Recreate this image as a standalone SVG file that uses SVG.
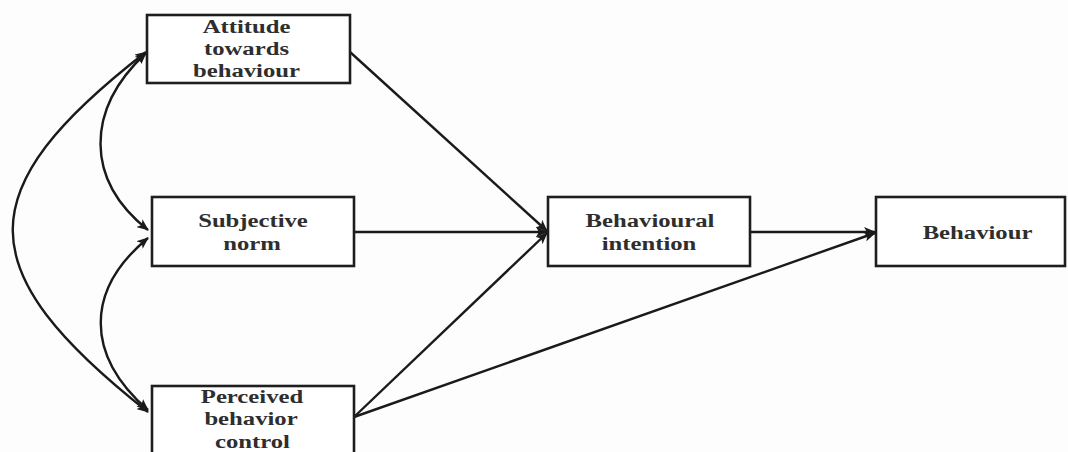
<svg xmlns="http://www.w3.org/2000/svg" width="1068" height="452" viewBox="0 0 1068 452">
  <style>
    .box { fill: #ffffff; stroke: #1e1e1e; stroke-width: 2.6; }
    .lbl { font-family: "Liberation Serif", "Times New Roman", serif; font-weight: bold; font-size: 19px; fill: #2e2e2e; text-anchor: middle; }
    .edge { fill: none; stroke: #1a1a1a; stroke-width: 2.4; }
  </style>
  <defs>
    <marker id="arrow" viewBox="0 0 12 10" refX="11" refY="5" markerWidth="12" markerHeight="10" markerUnits="userSpaceOnUse" orient="auto-start-reverse">
      <path d="M0,0 L12,5 L0,10 L3,5 Z" fill="#1a1a1a"/>
    </marker>
  </defs>
  <rect width="1068" height="452" fill="#fdfdfd"/>

  <g id="connectors">
    <!-- direct paths -->
    <line class="edge" x1="350" y1="52" x2="547" y2="231" marker-end="url(#arrow)"/>
    <line class="edge" x1="354" y1="232" x2="547" y2="232" marker-end="url(#arrow)"/>
    <line class="edge" x1="354" y1="417" x2="547" y2="233" marker-end="url(#arrow)"/>
    <line class="edge" x1="354" y1="417" x2="875" y2="233" marker-end="url(#arrow)"/>
    <line class="edge" x1="750" y1="232" x2="875" y2="232" marker-end="url(#arrow)"/>
    <!-- correlations between the three antecedents -->
    <path class="edge" d="M146,53 C85,110 85,180 148,230" marker-start="url(#arrow)" marker-end="url(#arrow)"/>
    <path class="edge" d="M148,238 C85,290 85,355 148,410" marker-start="url(#arrow)" marker-end="url(#arrow)"/>
    <path class="edge" d="M146,52 C-32,190 -32,270 148,412" marker-start="url(#arrow)" marker-end="url(#arrow)"/>
  </g>

  <g id="attitude">
    <rect class="box" x="147" y="15" width="203" height="68"/>
    <text class="lbl" transform="translate(246.5,33) scale(1.3,1)">Attitude</text>
    <text class="lbl" transform="translate(246.5,55) scale(1.3,1)">towards</text>
    <text class="lbl" transform="translate(246.5,77) scale(1.3,1)">behaviour</text>
  </g>

  <g id="subjective-norm">
    <rect class="box" x="152" y="197" width="202" height="69"/>
    <text class="lbl" transform="translate(253,227) scale(1.3,1)">Subjective</text>
    <text class="lbl" transform="translate(252,250) scale(1.3,1)">norm</text>
  </g>

  <g id="perceived-control">
    <rect class="box" x="152" y="386" width="202" height="80"/>
    <text class="lbl" transform="translate(252,403) scale(1.3,1)">Perceived</text>
    <text class="lbl" transform="translate(251,425) scale(1.3,1)">behavior</text>
    <text class="lbl" transform="translate(252.5,448) scale(1.3,1)">control</text>
  </g>

  <g id="intention">
    <rect class="box" x="548" y="197" width="202" height="69"/>
    <text class="lbl" transform="translate(650,227) scale(1.3,1)">Behavioural</text>
    <text class="lbl" transform="translate(649,250) scale(1.3,1)">intention</text>
  </g>

  <g id="behaviour">
    <rect class="box" x="876" y="197" width="189" height="69"/>
    <text class="lbl" transform="translate(977.5,239) scale(1.3,1)">Behaviour</text>
  </g>
</svg>
